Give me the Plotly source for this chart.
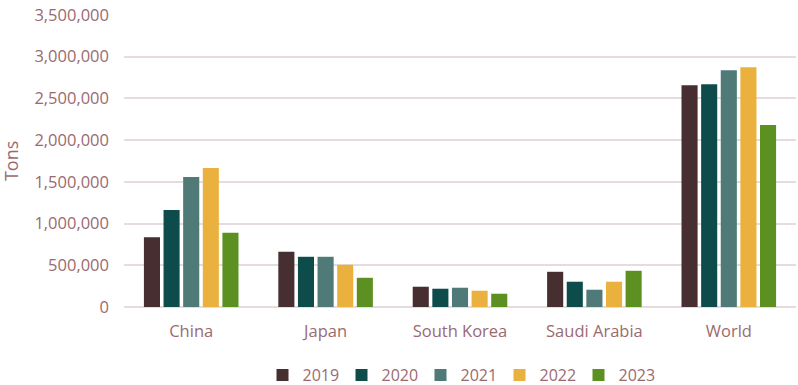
import plotly.graph_objects as go

categories = ["China", "Japan", "South Korea", "Saudi Arabia", "World"]
years = ["2019", "2020", "2021", "2022", "2023"]
v2019 = [837000, 661000, 243000, 422000, 2659000]
v2020 = [1164000, 602000, 219000, 303000, 2671000]
v2021 = [1559000, 602000, 231000, 207000, 2839000]
v2022 = [1666000, 506000, 195000, 303000, 2874000]
v2023 = [889000, 350000, 159000, 434000, 2181000]
series = [v2019, v2020, v2021, v2022, v2023]
colors = ["#472E31", "#0E4C4C", "#4F7A78", "#EBB13F", "#5C9121"]

txt = "#9B6A6F"
font = "Open Sans, Liberation Sans, sans-serif"
fs = 16.5

fig = go.Figure()
for name, vals, c in zip(years, series, colors):
    fig.add_trace(go.Bar(x=categories, y=vals, name=name, marker_color=c,
                         marker_line_width=0))

fig.update_layout(
    width=798, height=385,
    margin=dict(l=124, r=2, t=15, b=78, autoexpand=False),
    paper_bgcolor="white", plot_bgcolor="white",
    barmode="group", bargap=0.27, bargroupgap=0.18,
    font=dict(family=font, size=fs, color=txt),
    legend=dict(orientation="h", x=0.5, xanchor="center", y=-0.233, yanchor="middle",
                font=dict(size=16, color=txt), entrywidth=34, itemwidth=30),
    showlegend=True,
    annotations=[dict(text="Tons", xref="paper", yref="paper", x=-0.168, y=0.5,
                      xanchor="center", yanchor="middle", textangle=-90,
                      showarrow=False, font=dict(size=18, color=txt))],
)
fig.update_yaxes(range=[0, 3500000], dtick=500000, tickformat=",d",
                 showgrid=True, gridcolor="#E6DCE0", gridwidth=1.5,
                 zeroline=True, zerolinecolor="#E6DCE0", zerolinewidth=1.5,
                 showline=False, ticks="", ticklabelstandoff=14, automargin=False,
                 tickfont=dict(size=fs, color=txt))
fig.update_xaxes(showline=False, ticks="", tickfont=dict(size=fs, color=txt),
                 ticklabelstandoff=12, automargin=False)

fig.write_html("out.html", config={"displayModeBar": False},
               post_script="document.body.style.margin='0';document.body.style.overflow='hidden';")
